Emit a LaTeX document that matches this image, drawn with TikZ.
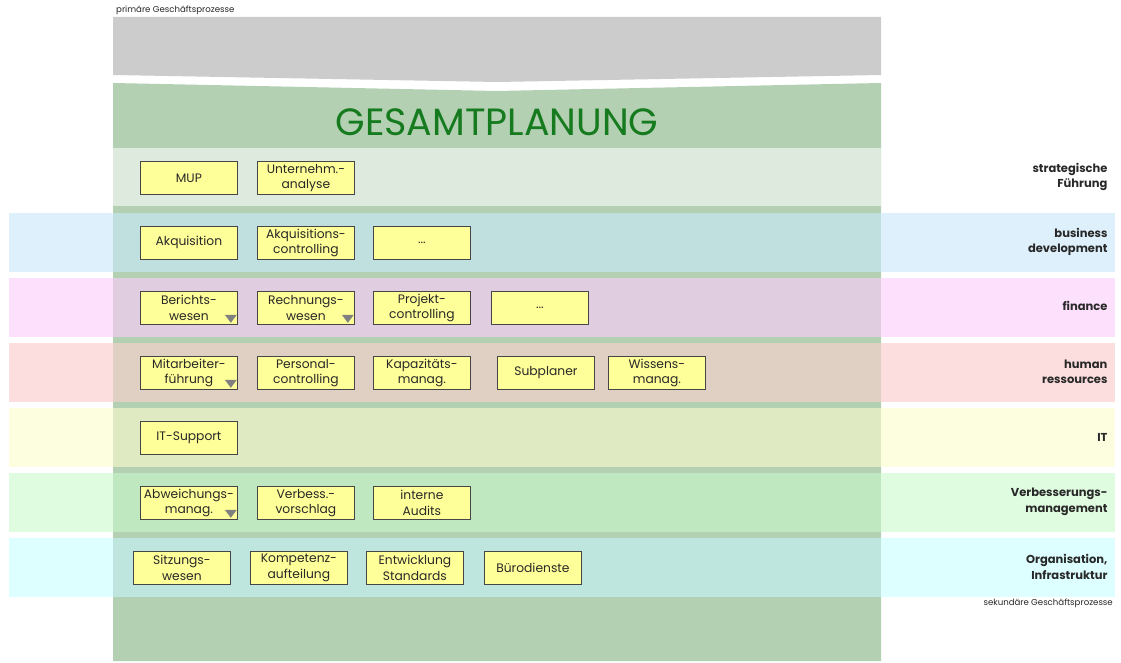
\documentclass[tikz,border=0pt]{standalone}
\usepackage{fontspec}
\setmainfont{Poppins}
\usetikzlibrary{calc}

\definecolor{colbase}{RGB}{179,208,179}
\definecolor{colhead}{RGB}{204,204,204}
\definecolor{coltitle}{RGB}{22,122,30}
\definecolor{boxfill}{RGB}{255,255,153}
\definecolor{boxline}{RGB}{70,70,70}
\definecolor{tri}{RGB}{128,128,128}
\definecolor{txt}{RGB}{40,40,40}
% row colours: inside the column / outside it
\definecolor{rAin}{RGB}{223,234,223}
\definecolor{rBin}{RGB}{192,224,224}\definecolor{rBout}{RGB}{221,240,251}
\definecolor{rCin}{RGB}{224,206,224}\definecolor{rCout}{RGB}{252,224,252}
\definecolor{rDin}{RGB}{224,208,196}\definecolor{rDout}{RGB}{252,222,222}
\definecolor{rEin}{RGB}{224,234,194}\definecolor{rEout}{RGB}{253,253,224}
\definecolor{rFin}{RGB}{192,232,192}\definecolor{rFout}{RGB}{224,252,224}
\definecolor{rGin}{RGB}{190,230,222}\definecolor{rGout}{RGB}{221,255,255}

\tikzset{
  proc/.style={draw=boxline, line width=0.8pt, fill=boxfill, minimum width=97pt,
    minimum height=33pt, inner sep=0pt, align=center, text=txt,
    font=\fontsize{12.3}{15.5}\selectfont},
  rowlabel/.style={anchor=east, align=right, text=txt,
    font=\bfseries\fontsize{11.5}{15.5}\selectfont},
  small/.style={text=txt, font=\fontsize{8.6}{9}\selectfont, inner sep=0pt},
  dropmark/.style={fill=tri, draw=none}
}

% a process box given by its left/top pixel corner
\newcommand{\procbox}[4]{%
  \node[proc, anchor=north west] (#1) at (#2,#3) {#4};}
% grey drop-down triangle in the lower right corner of a box
\newcommand{\dropdown}[1]{%
  \fill[dropmark] ($(#1.south east)+(-13,-10)$) -- ++(12,0) -- ++(-6,8) -- cycle;}

\begin{document}
\begin{tikzpicture}[x=1pt, y=-1pt]
\useasboundingbox (0,0) rectangle (1121,663);
\fill[white] (0,0) rectangle (1121,663);

% header band and main column
\fill[colhead] (113,17) -- (881,17) -- (881,75) -- (497,82) -- (113,75) -- cycle;
\fill[colbase] (113,83) -- (497,91) -- (881,83) -- (881,661) -- (113,661) -- cycle;

\node[small, anchor=west] (prim) at (116,10) {primäre Geschäftsprozesse};
\node[text=coltitle, font=\fontsize{38}{42}\selectfont] (title) at (497,122) {GESAMTPLANUNG};

% first row (no side extension)
\fill[rAin] (113,148) rectangle (881,206);

% rows with side extensions: top y, inner colour, outer colour
\foreach \t/\ci/\co in {213/rBin/rBout, 278/rCin/rCout, 343/rDin/rDout,
                        408/rEin/rEout, 473/rFin/rFout, 538/rGin/rGout}{
  \fill[\co] (9,\t) rectangle (113,\t+58.5);
  \fill[\co] (881,\t) rectangle (1115,\t+58.5);
  \fill[\ci] (113,\t) rectangle (881,\t+58.5);
}

% row labels
\node[rowlabel] (lA) at (1111,177) {strategische\\Führung};
\node[rowlabel] (lB) at (1111,242) {business\\development};
\node[rowlabel] (lC) at (1111,306) {finance};
\node[rowlabel] (lD) at (1111,372) {human\\ressources};
\node[rowlabel] (lE) at (1111,437) {IT};
\node[rowlabel] (lF) at (1111,502) {Verbesserungs-\\management};
\node[rowlabel] (lG) at (1111,567) {Organisation,\\Infrastruktur};
\node[small, anchor=east] (sek) at (1113,603) {sekundäre Geschäftsprozesse};

% strategische Führung
\procbox{mup}{140}{161}{MUP}
\procbox{una}{257}{161}{Unternehm.-\\analyse}
% business development
\procbox{akq}{140}{226}{Akquisition}
\procbox{akc}{257}{226}{Akquisitions-\\controlling}
\procbox{bdx}{373}{226}{...}
% finance
\procbox{ber}{140}{291}{Berichts-\\wesen}
\procbox{rec}{257}{291}{Rechnungs-\\wesen}
\procbox{prc}{373}{291}{Projekt-\\controlling}
\procbox{fix}{491}{291}{...}
% human ressources
\procbox{mit}{140}{356}{Mitarbeiter-\\führung}
\procbox{pec}{257}{356}{Personal-\\controlling}
\procbox{kap}{373}{356}{Kapazitäts-\\manag.}
\procbox{sub}{497}{356}{Subplaner}
\procbox{wis}{608}{356}{Wissens-\\manag.}
% IT
\procbox{its}{140}{421}{IT-Support}
% Verbesserungsmanagement
\procbox{abw}{140}{486}{Abweichungs-\\manag.}
\procbox{vbv}{257}{486}{Verbess.-\\vorschlag}
\procbox{aud}{373}{486}{interne\\Audits}
% Organisation, Infrastruktur
\procbox{sit}{133}{551}{Sitzungs-\\wesen}
\procbox{kom}{250}{551}{Kompetenz-\\aufteilung}
\procbox{ent}{366}{551}{Entwicklung\\Standards}
\procbox{bue}{484}{551}{Bürodienste}

\dropdown{ber}
\dropdown{rec}
\dropdown{mit}
\dropdown{abw}
\end{tikzpicture}
\end{document}
